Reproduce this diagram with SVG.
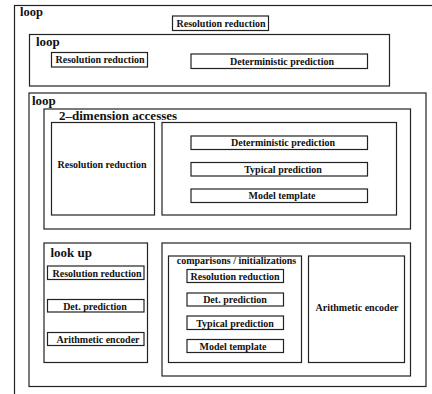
<svg xmlns="http://www.w3.org/2000/svg" width="432" height="394" viewBox="0 0 432 394">
<style>
rect{fill:none;stroke:#222;stroke-width:1.2}
text{font-family:"Liberation Serif","Times New Roman",serif;font-weight:bold;fill:#111}
.b{font-size:10px;text-anchor:middle}
.h12{font-size:12.5px}
.h13{font-size:13px}
.s{font-size:10px;text-anchor:middle}
</style>
<rect x="0" y="0" width="432" height="394" style="fill:#fff;stroke:none"/>
<g id="loop1">
<rect x="14.5" y="5.5" width="440" height="400"/>
<text class="h12" x="20" y="16">loop</text>
</g>
<g id="rr_top">
<rect x="172.5" y="16" width="96" height="14.5"/>
<text class="b" x="221" y="26.5">Resolution reduction</text>
</g>
<g id="loop2">
<rect x="29.5" y="34.5" width="360" height="51.5"/>
<text class="h13" x="36" y="46">loop</text>
</g>
<g id="rr_loop2">
<rect x="51.5" y="52.5" width="96" height="14.5"/>
<text class="b" x="100" y="63">Resolution reduction</text>
</g>
<g id="dp_loop2">
<rect x="191" y="54" width="176.5" height="14.5"/>
<text class="b" x="282" y="65">Deterministic prediction</text>
</g>
<g id="loop3">
<rect x="29" y="93" width="397" height="293.5"/>
<text class="h13" x="32" y="105">loop</text>
</g>
<g id="twodim">
<rect x="44" y="109" width="366.5" height="120"/>
<text class="h13" x="59" y="120">2–dimension accesses</text>
</g>
<g id="rr_tall">
<rect x="51.5" y="122.5" width="103" height="92.5"/>
<text class="b" x="102" y="168">Resolution reduction</text>
</g>
<g id="right2d">
<rect x="162" y="122.5" width="234.5" height="92.5"/>
</g>
<g id="dp2d">
<rect x="191" y="136" width="176.5" height="13.5"/>
<text class="b" x="283" y="146">Deterministic prediction</text>
</g>
<g id="tp2d">
<rect x="191" y="162.5" width="176.5" height="13.5"/>
<text class="b" x="283" y="172.5">Typical prediction</text>
</g>
<g id="mt2d">
<rect x="191" y="189" width="176.5" height="13.5"/>
<text class="b" x="282" y="199">Model template</text>
</g>
<g id="lookup">
<rect x="44" y="243" width="103.5" height="119.5"/>
<text class="h13" x="50.5" y="256.5">look up</text>
</g>
<g id="rr_lu">
<rect x="47.5" y="266" width="96.5" height="13.5"/>
<text class="b" x="97" y="276.5">Resolution reduction</text>
</g>
<g id="dp_lu">
<rect x="47.5" y="299.5" width="96.5" height="12.5"/>
<text class="b" x="95" y="309.5">Det. prediction</text>
</g>
<g id="ae_lu">
<rect x="47.5" y="332.5" width="96.5" height="13"/>
<text class="b" x="98" y="343">Arithmetic encoder</text>
</g>
<g id="rightbig">
<rect x="162" y="243" width="248.5" height="133"/>
</g>
<g id="comp">
<rect x="168.5" y="256" width="133" height="106.5"/>
<text class="s" x="236.5" y="264">comparisons / initializations</text>
</g>
<g id="rr_c">
<rect x="187" y="269.5" width="96.5" height="13"/>
<text class="b" x="235" y="279.5">Resolution reduction</text>
</g>
<g id="dp_c">
<rect x="187" y="293" width="96.5" height="13"/>
<text class="b" x="235" y="303">Det. prediction</text>
</g>
<g id="tp_c">
<rect x="187" y="316" width="96.5" height="13.5"/>
<text class="b" x="235" y="326.5">Typical prediction</text>
</g>
<g id="mt_c">
<rect x="187" y="339.5" width="96.5" height="13"/>
<text class="b" x="233" y="349.5">Model template</text>
</g>
<g id="ae_big">
<rect x="308.5" y="256" width="96" height="106.5"/>
<text class="b" x="357" y="311">Arithmetic encoder</text>
</g>
<g id="connectors"></g>
</svg>
